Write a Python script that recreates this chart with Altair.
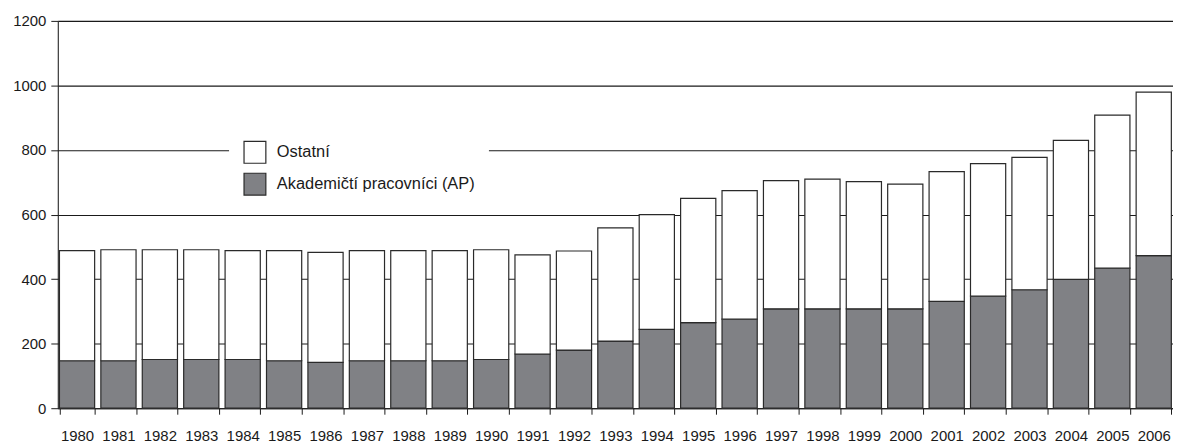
import altair as alt
import pandas as pd

years = [str(y) for y in range(1980, 2007)]
ap = [147, 147, 151, 151, 151, 147, 142, 147, 147, 147, 151, 168, 180,
      208, 244, 265, 276, 308, 308, 308, 308, 331, 347, 367, 399, 434, 473]
ostatni = [341, 344, 340, 340, 337, 341, 341, 341, 341, 341, 340, 307, 307,
           351, 356, 385, 398, 397, 402, 394, 386, 402, 411, 410, 431, 474, 506]

s_ost = "Ostatní"
s_ap = "Akademičtí pracovníci (AP)"

rows = []
for y, a, o in zip(years, ap, ostatni):
    rows.append({"rok": y, "serie": s_ap, "hodnota": a, "poradi": 0})
    rows.append({"rok": y, "serie": s_ost, "hodnota": o, "poradi": 1})
df = pd.DataFrame(rows)

FONT = "Liberation Sans"

chart = alt.Chart(df).mark_bar(stroke="#2a2a2a", strokeWidth=1.2).encode(
    x=alt.X("rok:N", sort=years, title=None,
            scale=alt.Scale(paddingInner=0.15, paddingOuter=0.04),
            axis=alt.Axis(labelAngle=0, tickBand="extent", tickSize=6,
                          labelPadding=14, labelFontSize=15, labelFont=FONT,
                          labelColor="#1a1a1a", domainColor="#1a1a1a",
                          tickColor="#1a1a1a", grid=False)),
    y=alt.Y("hodnota:Q", stack="zero", title=None,
            scale=alt.Scale(domain=[0, 1200], nice=False),
            axis=alt.Axis(values=[0, 200, 400, 600, 800, 1000, 1200], format="d",
                          tickSize=7, labelPadding=5, labelFontSize=15,
                          labelFont=FONT, labelColor="#1a1a1a",
                          domainColor="#1a1a1a", tickColor="#1a1a1a",
                          gridColor="#1a1a1a", gridOpacity=1, gridWidth=1.1)),
    color=alt.Color("serie:N",
                    scale=alt.Scale(domain=[s_ost, s_ap], range=["#ffffff", "#808185"]),
                    legend=alt.Legend(title=None, orient="none", legendX=172, legendY=106,
                                      fillColor="white", padding=14,
                                      symbolType="square", symbolSize=480,
                                      symbolStrokeColor="#2a2a2a", symbolStrokeWidth=1.2,
                                      symbolOpacity=1, rowPadding=4, labelLimit=400,
                                      labelFont=FONT, labelFontSize=16.5,
                                      labelColor="#1a1a1a", labelOffset=10)),
    order=alt.Order("poradi:Q"),
).properties(
    width=1120, height=389,
    autosize=alt.AutoSizeParams(type="none"),
    padding={"left": 50, "top": 12, "right": 0, "bottom": 35},
).configure_view(stroke=None).configure(background="white")

chart.save("out.html", embed_options={"renderer": "svg", "actions": False})
